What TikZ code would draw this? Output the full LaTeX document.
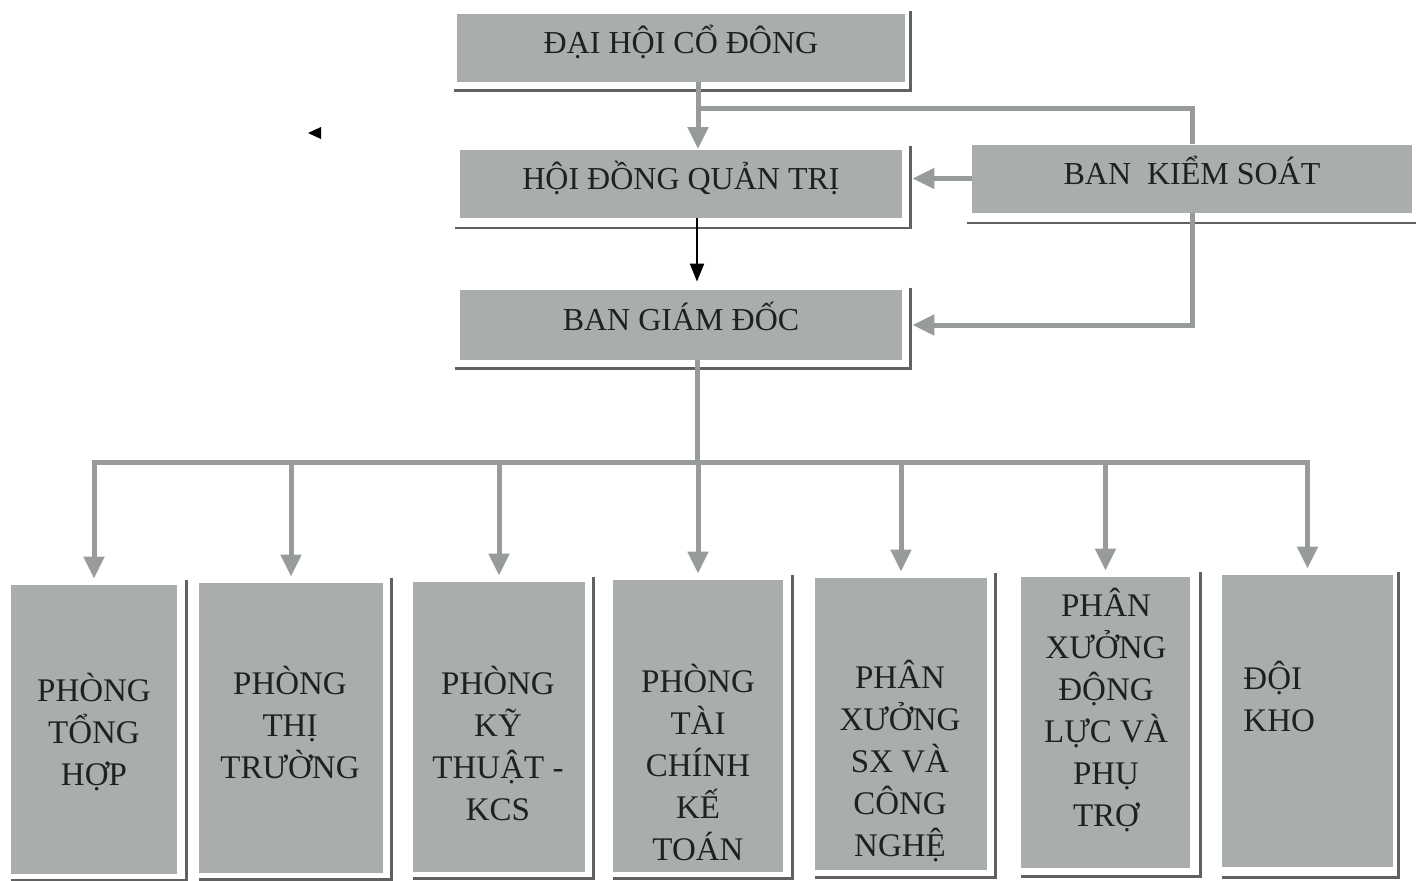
\documentclass[tikz,border=0pt]{standalone}
\usepackage{fontspec}
\setmainfont{Liberation Serif}
\usetikzlibrary{arrows.meta}
\definecolor{boxgray}{RGB}{170,174,170}
\definecolor{linegray}{RGB}{152,156,152}
\definecolor{rimgray}{RGB}{95,98,95}
\definecolor{inkgray}{RGB}{30,33,30}

\begin{document}
\begin{tikzpicture}[x=0.5pt,y=-0.5pt,
    >={Triangle[width=10pt,length=11pt]},
    topbox/.style={fill=boxgray, minimum width=221pt, minimum height=34pt, inner sep=0pt,
      text=inkgray, text height=8pt, text depth=2.4pt, font=\fontsize{16}{19}\selectfont},
    lowbox/.style={fill=boxgray, inner sep=0pt},
    lowtext/.style={text=inkgray, align=center, inner sep=0pt, font=\fontsize{16.5}{21}\selectfont},
    rim/.style={draw=rimgray, line width=1.2pt},
    flow/.style={draw=linegray, line width=2.5pt},
  ]
  \useasboundingbox (0,0) rectangle (1416,880);

  % upper boxes
  \node[topbox, minimum width=224pt] (dhcd) at (681,48) {ĐẠI HỘI CỔ ĐÔNG};
  \node[topbox] (hdqt) at (681,183.5) {HỘI ĐỒNG QUẢN TRỊ};
  \node[topbox, minimum width=220pt] (bks) at (1192,178.5) {BAN\ \ KIỂM SOÁT};
  \node[topbox, minimum height=35pt] (bgd) at (681,325) {BAN GIÁM ĐỐC};

  \draw[rim] ([xshift=2.5pt,yshift=1.5pt]dhcd.north east) |- ([xshift=-1.5pt,yshift=-4pt]dhcd.south west);
  \draw[rim] ([xshift=4pt,yshift=1.5pt]hdqt.north east) |- ([xshift=-2.5pt,yshift=-5pt]hdqt.south west);
  \draw[rim] ([xshift=4pt,yshift=1pt]bgd.north east) |- ([xshift=-2.5pt,yshift=-4pt]bgd.south west);
  \draw[rim] ([xshift=-2.5pt,yshift=-5pt]bks.south west) -- ([xshift=4pt,yshift=-5pt]bks.south east);

  % departments
  \node[lowbox, minimum width=83pt, minimum height=144.5pt] (b1) at (94,729.5) {};
  \node[lowbox, minimum width=92pt, minimum height=145pt] (b2) at (291,728) {};
  \node[lowbox, minimum width=86pt, minimum height=145pt] (b3) at (499,727) {};
  \node[lowbox, minimum width=85pt, minimum height=146pt] (b4) at (698,726) {};
  \node[lowbox, minimum width=86pt, minimum height=146pt] (b5) at (901,724) {};
  \node[lowbox, minimum width=84.5pt, minimum height=145.5pt] (b6) at (1105.5,722.5) {};
  \node[lowbox, minimum width=85.5pt, minimum height=146pt] (b7) at (1307.5,721) {};

  \draw[rim] ([xshift=4.5pt,yshift=2.5pt]b1.north east) |- ([yshift=-3pt]b1.south west);
  \draw[rim] ([xshift=4pt,yshift=2.5pt]b2.north east) |- ([yshift=-3pt]b2.south west);
  \draw[rim] ([xshift=4pt,yshift=2.5pt]b3.north east) |- ([yshift=-3pt]b3.south west);
  \draw[rim] ([xshift=4.5pt,yshift=2.5pt]b4.north east) |- ([yshift=-3pt]b4.south west);
  \draw[rim] ([xshift=4pt,yshift=2.5pt]b5.north east) |- ([yshift=-3.5pt]b5.south west);
  \draw[rim] ([xshift=5pt,yshift=2.5pt]b6.north east) |- ([yshift=-4pt]b6.south west);
  \draw[rim] ([xshift=2.5pt,yshift=1.5pt]b7.north east) |- ([yshift=-5pt]b7.south west);

  \node[lowtext] (t1) at (94,732) {PHÒNG\\TỔNG\\HỢP};
  \node[lowtext] (t2) at (290,722) {PHÒNG\\THỊ\\TRƯỜNG};
  \node[lowtext] (t3) at (498,743) {PHÒNG\\KỸ\\THUẬT -\\KCS};
  \node[lowtext] (t4) at (698,762) {PHÒNG\\TÀI\\CHÍNH\\KẾ\\TOÁN};
  \node[lowtext] (t5) at (900,761) {PHÂN\\XƯỞNG\\SX VÀ\\CÔNG\\NGHỆ};
  \node[lowtext] (t6) at (1106,710) {PHÂN\\XƯỞNG\\ĐỘNG\\LỰC VÀ\\PHỤ\\TRỢ};
  \node[lowtext, align=left, anchor=west] (t7) at (1243,696) {ĐỘI\\KHO};

  % connectors
  \coordinate (fork) at (698,108);
  \coordinate (hq) at ([xshift=5pt]hdqt.east);
  \coordinate (bg) at ([xshift=5pt]bgd.east);
  \coordinate (bus) at (697,462);

  \draw[flow,->] ([xshift=8.5pt]dhcd.south) -- ([xshift=8.5pt]hdqt.north);
  \draw[flow] (fork) -| (bks.north);
  \draw[flow,->] (bks.west) -- (bks.west -| hq);
  \draw[flow,->] (bks.south) |- (bg);
  \draw[black,line width=1pt,->,>={Triangle[width=7pt,length=9pt]},shorten >=4pt]
    ([xshift=8pt]hdqt.south) -- ([xshift=8pt]bgd.north);

  \draw[flow] ([xshift=8pt]bgd.south) -- (bus);
  \draw[flow,->,shorten >=3pt] (bus) -| (b1.north);
  \draw[flow,->,shorten >=3pt] (bus) -| (b7.north);
  \draw[flow,->,shorten >=3pt] (bus -| b2.north) -- (b2.north);
  \draw[flow,->,shorten >=3pt] (bus -| b3.north) -- (b3.north);
  \draw[flow,->,shorten >=3pt] (bus -| b4.north) -- (b4.north);
  \draw[flow,->,shorten >=3pt] (bus -| b5.north) -- (b5.north);
  \draw[flow,->,shorten >=3pt] (bus -| b6.north) -- (b6.north);

  \fill[black] (308,133) -- (321,127) -- (321,139) -- cycle;
\end{tikzpicture}
\end{document}
